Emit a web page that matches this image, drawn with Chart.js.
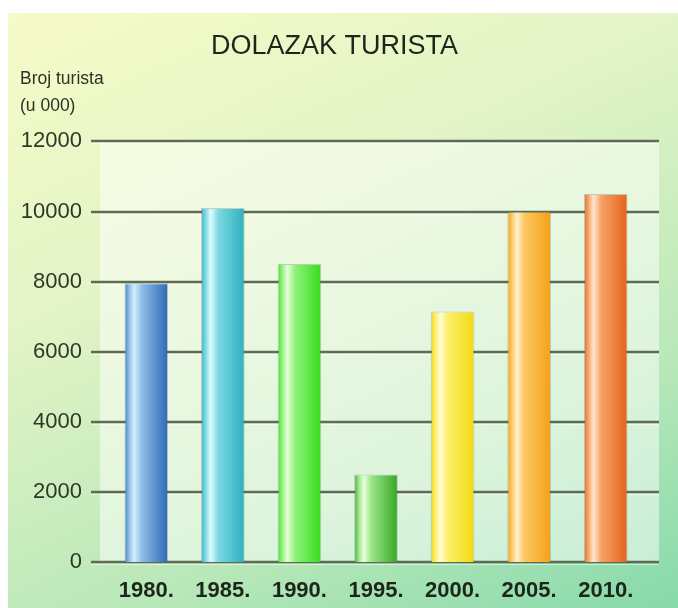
<!DOCTYPE html>
<html>
<head>
<meta charset="utf-8">
<script src="https://cdn.jsdelivr.net/npm/chart.js@4.4.1/dist/chart.umd.min.js"></script>
<style>
    html, body { margin: 0; padding: 0; background: #ffffff; }
    #wrap {
        position: absolute;
        left: 8px;
        top: 13px;
        width: 670px;
        height: 595px;
        background: linear-gradient(155deg, #f6fbc8 0%, #e3f4c6 35%, #b9e8b9 72%, #86d9ab 100%);
    }
    canvas { display: block; }
</style>
</head>
<body>
<div id="wrap"><canvas id="chart" width="670" height="595"></canvas></div>
<script>
// ===== DATA =====
const years = ["1980.", "1985.", "1990.", "1995.", "2000.", "2005.", "2010."];
const tourists = [7950, 10100, 8500, 2500, 7150, 10000, 10500];
const yTicks = [0, 2000, 4000, 6000, 8000, 10000, 12000];

// bar shading per year: [edge, highlight, light, dark]
const barShades = [
    ["#3b7ec4", "#d6eefc", "#8dbce6", "#2c69b8"],
    ["#38b6c4", "#dcfcff", "#7ad8e3", "#2db0bd"],
    ["#48dc30", "#e4ffd6", "#8ef27a", "#38dc1c"],
    ["#3ea82c", "#eaffdc", "#9ae486", "#35a626"],
    ["#eed21a", "#fffbd6", "#fbef66", "#f2da14"],
    ["#f0a41e", "#fff0cc", "#fcc760", "#f4a016"],
    ["#e26e24", "#ffe6cc", "#f6a266", "#e6621a"]
];

// Gradient fill for each bar, built from the x scale
function barFill(ctx) {
    const chart = ctx.chart;
    const xs = chart.scales.x;
    const shade = barShades[ctx.dataIndex];
    if (!xs || !chart.chartArea) return shade[2];
    const cx = xs.getPixelForValue(ctx.dataIndex);
    const half = (xs.width / years.length) * 0.57 / 2;
    const g = chart.ctx.createLinearGradient(cx - half, 0, cx + half, 0);
    g.addColorStop(0, shade[0]);
    g.addColorStop(0.1, shade[2]);
    g.addColorStop(0.22, shade[1]);
    g.addColorStop(0.4, shade[2]);
    g.addColorStop(1, shade[3]);
    return g;
}

// Light panel behind the plot + long grid lines
const panelPlugin = {
    id: "panel",
    beforeDatasetsDraw(chart) {
        const { ctx, chartArea, scales } = chart;
        const left = chartArea.left - 8;
        const right = chartArea.right + 15;

        ctx.save();
        ctx.fillStyle = "rgba(255,255,255,0.5)";
        ctx.fillRect(left, chartArea.top, right - left, chartArea.bottom - chartArea.top);

        yTicks.forEach((v) => {
            const y = Math.round(scales.y.getPixelForValue(v));
            ctx.strokeStyle = "rgba(255,255,255,0.5)";
            ctx.lineWidth = 1;
            ctx.beginPath();
            ctx.moveTo(chartArea.left - 17, y + 2.5);
            ctx.lineTo(right, y + 2.5);
            ctx.stroke();
            ctx.strokeStyle = "#5e6c56";
            ctx.lineWidth = 2.5;
            ctx.beginPath();
            ctx.moveTo(chartArea.left - 17, y);
            ctx.lineTo(right, y);
            ctx.stroke();
        });
        ctx.restore();
    },
    afterDraw(chart) {
        const ctx = chart.ctx;
        ctx.save();
        ctx.fillStyle = "#2a3326";
        ctx.font = "17.5px 'Liberation Sans', Arial, sans-serif";
        ctx.textAlign = "left";
        ctx.textBaseline = "alphabetic";
        ctx.fillText("Broj turista", 12, 71);
        ctx.fillText("(u 000)", 12, 98);
        ctx.restore();
    }
};

new Chart(document.getElementById("chart"), {
    type: "bar",
    data: {
        labels: years,
        datasets: [
            {
                data: tourists,
                backgroundColor: barFill,
                borderColor: "rgba(60,80,50,0.25)",
                borderWidth: 1,
                barPercentage: 0.57,
                categoryPercentage: 1.0
            }
        ]
    },
    options: {
        responsive: false,
        animation: false,
        layout: {
            padding: { left: 0, right: 17, top: 0, bottom: 0 }
        },
        plugins: {
            legend: { display: false },
            tooltip: { enabled: false },
            title: {
                display: true,
                text: "DOLAZAK TURISTA",
                color: "#1e261c",
                font: { family: "'Liberation Sans', Arial, sans-serif", size: 27, weight: "normal", lineHeight: 1.2 },
                padding: { top: 17, bottom: 79 }
            }
        },
        scales: {
            x: {
                grid: { display: false },
                border: { display: false },
                ticks: {
                    color: "#1c2619",
                    padding: 8,
                    font: { family: "'Liberation Sans', Arial, sans-serif", size: 22, weight: "bold" }
                },
                afterFit(scale) { scale.height = 46; }
            },
            y: {
                min: 0,
                max: 12000,
                grid: { display: false },
                border: { display: false },
                afterBuildTicks(scale) {
                    scale.ticks = yTicks.map((v) => ({ value: v }));
                },
                ticks: {
                    color: "#2c3828",
                    padding: 18,
                    callback: (v) => String(v),
                    font: { family: "'Liberation Sans', Arial, sans-serif", size: 22 }
                },
                afterFit(scale) { scale.width = 100; }
            },
            // empty spacer on the right so the title centres like the original
            spacer: {
                type: "linear",
                position: "right",
                grid: { display: false },
                border: { display: false },
                ticks: { display: false },
                afterFit(scale) { scale.width = 17; }
            }
        }
    },
    plugins: [panelPlugin]
});
</script>
</body>
</html>
